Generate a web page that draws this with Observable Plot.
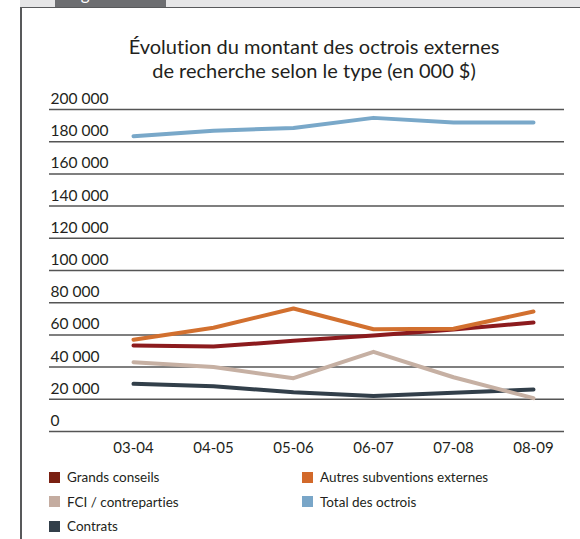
<!DOCTYPE html>
<html><head><meta charset="utf-8">
<script src="https://cdn.jsdelivr.net/npm/d3@7"></script>
<script src="https://cdn.jsdelivr.net/npm/@observablehq/plot@0.6"></script>
<style>
body{margin:0;background:#fff;font-family:Lato,"Open Sans",sans-serif;color:#231f20;font-variant-ligatures:none;}
#wrap{position:relative;width:580px;height:539px;overflow:hidden;}
#band{position:absolute;left:20px;top:0;width:560px;height:7px;background:#e6e6e7;border-bottom:1.5px solid #58595b;}
#lborder{position:absolute;left:20px;top:7px;width:1.5px;height:540px;background:#58595b;}
#tab{position:absolute;left:55px;top:0;width:111px;height:7px;background:#6d6e71;overflow:hidden;}
#tab span{position:absolute;left:12px;top:-16px;color:#fff;font-size:17px;line-height:20px;}
#title{position:absolute;left:0;width:628px;top:34px;text-align:center;font-size:20px;line-height:24px;}
#chart{position:absolute;left:0;top:85px;}
#legend{position:absolute;left:49px;top:467px;width:520px;display:grid;grid-template-columns:253px 260px;row-gap:4.5px;font-size:13.5px;line-height:20px;}
.item{display:flex;align-items:center;}
.sw{width:11px;height:11px;margin-right:7px;flex:none;}
</style></head>
<body><div id="wrap">
<div id="band"></div><div id="lborder"></div>
<div id="tab"><span>Figure 17</span></div>
<div id="title">Évolution du montant des octrois externes<br>de recherche selon le type (en 000 $)</div>
<div id="chart"></div>
<div id="legend"></div>
</div>
<script>
const periods = ["03-04","04-05","05-06","06-07","07-08","08-09"];
const grandsConseils = [53400, 52800, 56300, 59600, 63300, 67700];
const autresSubventions = [57000, 64400, 76400, 63500, 63800, 74500];
const fciContreparties = [43000, 40000, 33100, 49500, 33700, 20700];
const totalOctrois = [183400, 186800, 188500, 194800, 192000, 192000];
const contrats = [29600, 28100, 24400, 22100, 24000, 26100];
const yTicks = [0, 20000, 40000, 60000, 80000, 100000, 120000, 140000, 160000, 180000, 200000];
const yTickLabels = ["0","20 000","40 000","60 000","80 000","100 000","120 000","140 000","160 000","180 000","200 000"];

const series = [
  {name:"Grands conseils", values:grandsConseils, color:"#8c1b1e", swatch:"#7a2012"},
  {name:"Autres subventions externes", values:autresSubventions, color:"#d2702f", swatch:"#d2692a"},
  {name:"FCI / contreparties", values:fciContreparties, color:"#c6b0a3", swatch:"#c4aca0"},
  {name:"Total des octrois", values:totalOctrois, color:"#79a8c9", swatch:"#79a6c8"},
  {name:"Contrats", values:contrats, color:"#323f4a", swatch:"#323f4a"}
];
const drawOrder = ["Contrats","Grands conseils","Autres subventions externes","FCI / contreparties","Total des octrois"];
const rows = [];
for (const s of series) s.values.forEach((v,i)=>rows.push({serie:s.name, period:periods[i], value:v}));

const plot = Plot.plot({
  width: 580, height: 375,
  marginLeft: 49, marginRight: 16, marginTop: 24, marginBottom: 29,
  style: {fontFamily: 'Lato,"Open Sans",sans-serif', fontSize: "15px", color: "#231f20", background: "transparent"},
  x: {type: "point", domain: periods, padding: 0, insetLeft: 84, insetRight: 31, label: null},
  y: {domain: [0, 200000], label: null, axis: null},
  color: {domain: series.map(s=>s.name), range: series.map(s=>s.color)},
  marks: [
    Plot.ruleY(yTicks, {stroke: "#555", strokeWidth: 1.5}),
    Plot.text(yTicks, {y: d=>d, text: (d,i)=>yTickLabels[i], frameAnchor: "left", textAnchor: "start", dx: 1, dy: -10.5, fontSize: 15.5, fill: "#231f20"}),
    Plot.axisX({tickSize: 0, tickPadding: 11, fontSize: 15, color: "#231f20"}),
    ...drawOrder.map(n => Plot.line(rows.filter(r=>r.serie===n), {x: "period", y: "value", stroke: "serie", strokeWidth: 4, strokeLinecap: "round", strokeLinejoin: "round"}))
  ]
});
document.getElementById("chart").appendChild(plot);

const legendOrder = ["Grands conseils","Autres subventions externes","FCI / contreparties","Total des octrois","Contrats"];
const lg = document.getElementById("legend");
for (const n of legendOrder) {
  const s = series.find(d=>d.name===n);
  const it = document.createElement("div"); it.className = "item";
  const sw = document.createElement("span"); sw.className = "sw"; sw.style.background = s.swatch;
  const tx = document.createElement("span"); tx.textContent = n;
  it.appendChild(sw); it.appendChild(tx); lg.appendChild(it);
}
</script>
</body></html>
